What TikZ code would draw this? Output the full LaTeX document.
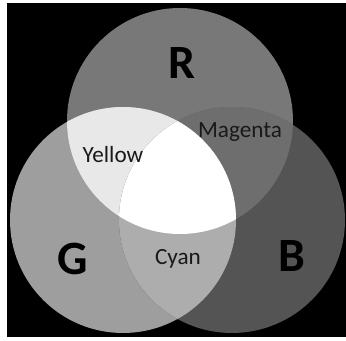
\documentclass[tikz,border=0pt]{standalone}
\usepackage{fontspec}
\setmainfont{Carlito}

\definecolor{redzone}{gray}{0.47}
\definecolor{greenzone}{gray}{0.62}
\definecolor{bluezone}{gray}{0.33}
\definecolor{yellowzone}{gray}{0.91}
\definecolor{magentazone}{gray}{0.43}
\definecolor{cyanzone}{gray}{0.68}

\tikzset{
  bigletter/.style={font=\fontsize{34}{38}\selectfont\bfseries, text=black},
  mixlabel/.style={font=\fontsize{16.5}{19}\selectfont, text=black!90}
}

\begin{document}
\begin{tikzpicture}

% Frame
\useasboundingbox (0,0) rectangle (8.65,8.525);
\fill[white] (0,0) rectangle (8.65,8.525);
\fill[black] (0.175,0.1) rectangle (8.65,8.45);

% Circle centres
\def\rad{2.825}
\coordinate (r) at (4.5,5.5);
\coordinate (g) at (3.075,3.025);
\coordinate (b) at (5.8,3.025);

% Primary discs
\fill[redzone] (r) circle (\rad);
\fill[greenzone] (g) circle (\rad);
\fill[bluezone] (b) circle (\rad);

% Pairwise overlaps
\begin{scope}
  \clip (r) circle (\rad);
  \fill[yellowzone] (g) circle (\rad);
  \fill[magentazone] (b) circle (\rad);
\end{scope}
\begin{scope}
  \clip (g) circle (\rad);
  \fill[cyanzone] (b) circle (\rad);
\end{scope}

% Centre
\begin{scope}
  \clip (r) circle (\rad);
  \clip (g) circle (\rad);
  \fill[white] (b) circle (\rad);
\end{scope}

% Labels
\node[bigletter] (labR) at (4.55,6.95) {R};
\node[bigletter] (labG) at (1.825,2.05) {G};
\node[bigletter] (labB) at (7.3,2.125) {B};
\node[mixlabel] (labY) at (2.825,4.65) {Yellow};
\node[mixlabel] (labM) at (6.0,5.225) {Magenta};
\node[mixlabel] (labC) at (4.45,2.05) {Cyan};

\end{tikzpicture}
\end{document}
